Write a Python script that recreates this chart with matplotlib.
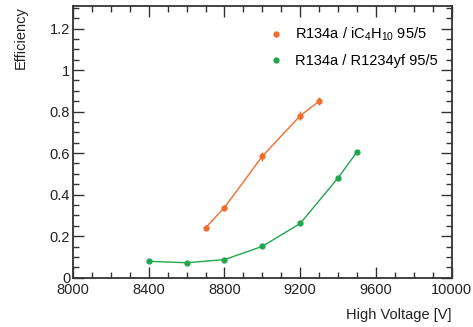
import numpy as np
import matplotlib
matplotlib.use("Agg")
import matplotlib.pyplot as plt
from matplotlib.ticker import MultipleLocator
from matplotlib.lines import Line2D

plt.rcParams['font.family'] = ['Liberation Sans', 'DejaVu Sans']
plt.rcParams['mathtext.default'] = 'regular'

# R134a / iC4H10 95/5
hv_iso = [8700, 8800, 9000, 9200, 9300]
eff_iso = [0.240, 0.338, 0.585, 0.780, 0.850]
err_iso = [0.008, 0.010, 0.022, 0.022, 0.020]

# R134a / R1234yf 95/5
hv_yf = [8400, 8600, 8800, 9000, 9200, 9400, 9500]
eff_yf = [0.079, 0.072, 0.087, 0.151, 0.261, 0.481, 0.606]
err_yf = [0.004, 0.004, 0.004, 0.006, 0.008, 0.010, 0.008]

labels = ['R134a / iC$_4$H$_{10}$ 95/5', 'R134a / R1234yf 95/5']

c_iso = '#f26d2c'
c_yf = '#1fa74c'
axcol = '#333333'

fig = plt.figure(figsize=(4.73, 3.27), dpi=100)
ax = fig.add_axes([0.1543, 0.1508, 0.8007, 0.8318])

ax.errorbar(hv_iso, eff_iso, yerr=err_iso, color=c_iso, marker='o', ms=3.5,
            lw=1.0, elinewidth=1.0, capsize=0)
ax.errorbar(hv_yf, eff_yf, yerr=err_yf, color=c_yf, marker='o', ms=3.5,
            lw=1.0, elinewidth=1.0, capsize=0)

ax.set_xlim(8000, 10000)
ax.set_ylim(0, 1.31)
ax.xaxis.set_major_locator(MultipleLocator(400))
ax.xaxis.set_minor_locator(MultipleLocator(100))
ax.yaxis.set_minor_locator(MultipleLocator(0.05))
ax.set_yticks([0, 0.2, 0.4, 0.6, 0.8, 1.0, 1.2])
ax.set_yticklabels(['0', '0.2', '0.4', '0.6', '0.8', '1', '1.2'])

ax.tick_params(which='both', direction='in', top=True, right=True,
               colors=axcol, labelcolor='#222222', labelsize=10.5, width=1.0)
ax.tick_params(which='major', length=8)
ax.tick_params(which='minor', length=4)
ax.tick_params(axis='x', pad=4)
ax.tick_params(axis='y', pad=2)
for s in ax.spines.values():
    s.set_color(axcol)
    s.set_linewidth(1.3)

ax.set_xlabel('High Voltage [V]', fontsize=10.5, color='#222222', loc='right', labelpad=8)
ax.set_ylabel('Efficiency', fontsize=10.5, color='#222222', loc='top', labelpad=16)

handles = [Line2D([], [], color=c, marker='o', ms=3.5, linestyle='none')
           for c in (c_iso, c_yf)]
ax.legend(handles, labels, loc='upper left', bbox_to_anchor=(0.49, 0.975),
          frameon=False, fontsize=10.5, handlelength=0.6, handletextpad=1.0,
          labelspacing=0.75)

fig.savefig('out.png', dpi=100)
